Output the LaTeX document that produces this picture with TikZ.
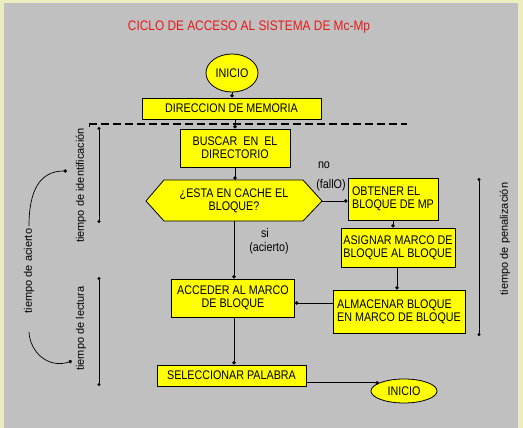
\documentclass[tikz,border=0pt]{standalone}
\usepackage{fontspec}
\setmainfont{Liberation Sans}
\newfontfamily\boxfont{Liberation Sans}[FakeStretch=0.86]
\usetikzlibrary{arrows.meta,shapes.geometric}
\definecolor{bgyel}{RGB}{236,236,190}
\definecolor{bggray}{RGB}{192,192,192}
\definecolor{boxyel}{RGB}{255,255,0}
\definecolor{titred}{RGB}{232,24,24}
\begin{document}
\begin{tikzpicture}[x=1pt,y=-1pt,
  txt/.style={font=\boxfont\fontsize{12.5}{13}\selectfont, inner sep=0pt, align=center},
  box/.style={txt, draw=black, fill=boxyel, line width=0.8pt},
  oval/.style={box, ellipse},
  rot/.style={font=\fontsize{11}{13}\selectfont, inner sep=0pt, rotate=90},
  conn/.style={draw=black, line width=0.7pt, -{Circle[length=3.5pt]}},
  tline/.style={draw=black, line width=0.7pt, {Circle[length=3pt]}-{Circle[length=3pt]}},
  dline/.style={draw=black, line width=1.8pt, dash pattern=on 8pt off 4pt}]
\useasboundingbox (0,0) rectangle (523,428);
\fill[bgyel] (0,0) rectangle (523,428);
\fill[bggray] (4,3) rectangle (518,428);

% title
\node[txt, text=titred, font=\boxfont\fontsize{13.8}{15}\selectfont] (title) at (249,27) {CICLO DE ACCESO AL SISTEMA DE Mc-Mp};

% main column
\node[oval, minimum width=52, minimum height=38] (ini) at (232,73) {INICIO};
\node[box, minimum width=179, minimum height=21] (dir) at (231.5,108.5) {DIRECCION DE MEMORIA};
\node[box, minimum width=110, minimum height=38] (busc) at (235,148) {BUSCAR\ \ EN\ \ EL\\DIRECTORIO};

% hexagon decision
\filldraw[fill=boxyel, draw=black, line width=0.8pt] (146,201) -- (164,180) -- (303,180) -- (322,201) -- (303,221) -- (164,221) -- cycle;
\node[txt, minimum width=139, minimum height=41] (q) at (234,200.5) {¿ESTA EN CACHE EL\\BLOQUE?};
\coordinate (qr) at (322,201);

\node[box, minimum width=123, minimum height=38] (acc) at (233,298) {ACCEDER AL MARCO\\DE BLOQUE};
\node[box, minimum width=149, minimum height=21] (sel) at (231.5,375.5) {SELECCIONAR PALABRA};
\node[oval, minimum width=66, minimum height=24] (ini2) at (404,391) {INICIO};

% right column
\node[box, align=left, minimum width=90, minimum height=42] (obt) at (393,199) {OBTENER EL\\BLOQUE DE MP};
\node[box, align=left, minimum width=114, minimum height=39] (asi) at (398,247.5) {ASIGNAR MARCO DE\\BLOQUE AL BLOQUE};
\node[box, align=left, minimum width=132, minimum height=43] (alm) at (399,311.5) {ALMACENAR BLOQUE\\EN MARCO DE BLOQUE};

% labels
\node[txt] (no) at (324,165) {no};
\node[txt] (fallo) at (331,185) {(fallO)};
\node[txt] (si) at (265,233) {si};
\node[txt] (acierto) at (269,248.5) {(acierto)};

% connectors
\draw[conn] (ini.south) -- (ini.south |- dir.north);
\draw[conn] (busc.north |- dir.south) -- (busc.north);
\draw[conn] (busc.south) -- (busc.south |- q.north);
\draw[conn] (q.south) -- (q.south |- acc.north);
\draw[conn] (q.south |- acc.south) -- (q.south |- sel.north);
\draw[conn] (qr) -- (qr -| obt.west);
\draw[conn] (obt.south) -- (obt.south |- asi.north);
\draw[conn] ([xshift=-1pt]asi.south) -- ([xshift=-1pt]asi.south |- alm.north);
\coordinate (almc) at (333,303);
\draw[conn] (almc) -- (almc -| acc.east);
\draw[conn] (ini2.162 -| sel.east) -- (ini2.162);

% dashed line
\coordinate (d1) at (89,124);
\coordinate (d2) at (407,124);
\draw[dline] (d1) -- (d2);
\draw[line width=0.8pt] (d1) -- ++(0,3);

% timing lines
\coordinate (ti1) at (99,127); \coordinate (ti2) at (99,223);
\draw[tline] (ti1) -- (ti2);
\coordinate (tl1) at (99,277); \coordinate (tl2) at (99,386);
\draw[tline] (tl1) -- (tl2);
\coordinate (tp1) at (479,178); \coordinate (tp2) at (479,336);
\draw[tline] (tp1) -- (tp2);

\node[rot] (tid) at (81,185.5) {tiempo de identificación};
\node[rot] (tac) at (29,271) {tiempo de acierto};
\node[rot] (tlec) at (81,328.5) {tiempo de lectura};
\node[rot] (tpen) at (505,239) {tiempo de penalización};

% curves
\coordinate (c1a) at (29,226); \coordinate (c1b) at (67,171);
\draw[conn] (c1a) .. controls (29,190) and (40,171) .. (c1b);
\coordinate (c2a) at (29,332); \coordinate (c2b) at (72,361);
\draw[conn] (c2a) .. controls (30,352) and (48,369) .. (c2b);
\end{tikzpicture}
\end{document}
